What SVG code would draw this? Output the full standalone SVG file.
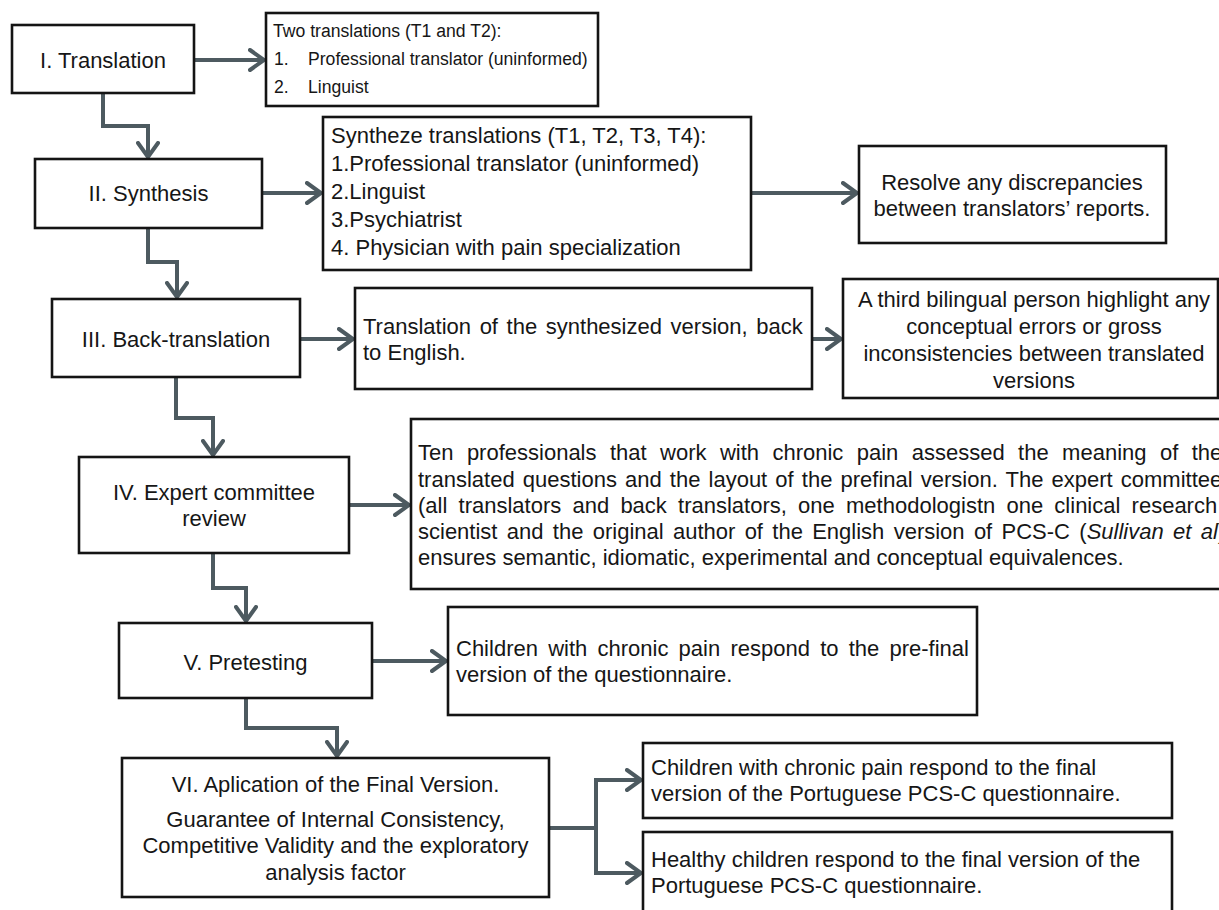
<svg xmlns="http://www.w3.org/2000/svg" width="1219" height="910" viewBox="0 0 1219 910">
<defs>
<style>
.box{fill:#fff;stroke:#141414;stroke-width:2.6}
.t{font-family:"Liberation Sans",Arial,sans-serif;font-size:22px;fill:#161616}
.s{font-size:17.6px}
.c{text-anchor:middle}
.con{fill:none;stroke:#4d5a60;stroke-width:4;stroke-linejoin:miter}
</style>
<marker id="arr" markerUnits="userSpaceOnUse" viewBox="0 0 18 24" refX="16" refY="12" markerWidth="18" markerHeight="24" orient="auto">
<path d="M2,2 L16,12 L2,22" fill="none" stroke="#4d5a60" stroke-width="4" stroke-linecap="round" stroke-linejoin="miter"/>
</marker>
</defs>
<rect width="1219" height="910" fill="#fff"/>

<g id="connectors">
<path class="con" d="M194,60 H264" marker-end="url(#arr)"/>
<path class="con" d="M103,93 V126 H148 V157" marker-end="url(#arr)"/>
<path class="con" d="M262,193 H321" marker-end="url(#arr)"/>
<path class="con" d="M751,193 H857" marker-end="url(#arr)"/>
<path class="con" d="M148,228 V262 H177 V297" marker-end="url(#arr)"/>
<path class="con" d="M300,339 H353" marker-end="url(#arr)"/>
<path class="con" d="M812,339 H841" marker-end="url(#arr)"/>
<path class="con" d="M176,377 V418 H213 V455" marker-end="url(#arr)"/>
<path class="con" d="M349,505 H409" marker-end="url(#arr)"/>
<path class="con" d="M213,553 V588 H246 V621" marker-end="url(#arr)"/>
<path class="con" d="M372,661 H446" marker-end="url(#arr)"/>
<path class="con" d="M246,698 V728 H337 V756" marker-end="url(#arr)"/>
<path class="con" d="M549,828 H596 V780 H641" marker-end="url(#arr)"/>
<path class="con" d="M596,826 V873 H641" marker-end="url(#arr)"/>
</g>

<g id="n1">
<rect class="box" x="12" y="25" width="182" height="68"/>
<text class="t c" x="103" y="68">I. Translation</text>
</g>
<g id="n1b">
<rect class="box" x="266" y="13" width="332" height="93"/>
<text class="t s" x="273" y="37">Two translations (T1 and T2):</text>
<text class="t s" x="274" y="65">1.</text>
<text class="t s" x="308" y="65">Professional translator (uninformed)</text>
<text class="t s" x="274" y="93">2.</text>
<text class="t s" x="308" y="93">Linguist</text>
</g>

<g id="n2">
<rect class="box" x="35" y="159" width="227" height="69"/>
<text class="t c" x="148.5" y="201">II. Synthesis</text>
</g>
<g id="n2b">
<rect class="box" x="323" y="117" width="428" height="153"/>
<text class="t" x="331" y="143">Syntheze translations (T1, T2, T3, T4):</text>
<text class="t" x="331" y="171">1.Professional translator (uninformed)</text>
<text class="t" x="331" y="199">2.Linguist</text>
<text class="t" x="331" y="227">3.Psychiatrist</text>
<text class="t" x="331" y="255">4. Physician with pain specialization</text>
</g>
<g id="n2c">
<rect class="box" x="859" y="146" width="307" height="97"/>
<text class="t c" x="1012" y="190">Resolve any discrepancies</text>
<text class="t c" x="1012" y="216">between translators’ reports.</text>
</g>

<g id="n3">
<rect class="box" x="52" y="299" width="248" height="78"/>
<text class="t c" x="176" y="347">III. Back-translation</text>
</g>
<g id="n3b">
<rect class="box" x="355" y="288" width="457" height="101"/>
<text class="t" x="363" y="334" word-spacing="2.5">Translation of the synthesized version, back</text>
<text class="t" x="363" y="360">to English.</text>
</g>
<g id="n3c">
<rect class="box" x="843" y="279" width="375" height="119"/>
<text class="t c" x="1034" y="307">A third bilingual person highlight any</text>
<text class="t c" x="1034" y="334">conceptual errors or gross</text>
<text class="t c" x="1034" y="361">inconsistencies between translated</text>
<text class="t c" x="1034" y="388">versions</text>
</g>

<g id="n4">
<rect class="box" x="79" y="457" width="270" height="96"/>
<text class="t c" x="214" y="500">IV. Expert committee</text>
<text class="t c" x="214" y="526">review</text>
</g>
<g id="n4b">
<rect class="box" x="411" y="419" width="820" height="170"/>
<text class="t" x="418" y="460" word-spacing="7.3">Ten professionals that work with chronic pain assessed the meaning of the</text>
<text class="t" x="418" y="486.5" word-spacing="2">translated questions and the layout of the prefinal version. The expert committee</text>
<text class="t" x="418" y="513" word-spacing="5.1">(all translators and back translators, one methodologistn one clinical research</text>
<text class="t" x="418" y="539" word-spacing="3.2">scientist and the original author of the English version of PCS-C (<tspan font-style="italic">Sullivan et al</tspan>)</text>
<text class="t" x="418" y="565">ensures semantic, idiomatic, experimental and conceptual equivalences.</text>
</g>

<g id="n5">
<rect class="box" x="119" y="623" width="253" height="75"/>
<text class="t c" x="245.5" y="670">V. Pretesting</text>
</g>
<g id="n5b">
<rect class="box" x="448" y="607" width="529" height="108"/>
<text class="t" x="456" y="656" word-spacing="4.1">Children with chronic pain respond to the pre-final</text>
<text class="t" x="456" y="682">version of the questionnaire.</text>
</g>

<g id="n6">
<rect class="box" x="122" y="758" width="427" height="139"/>
<text class="t c" x="335.5" y="792">VI. Aplication of the Final Version.</text>
<text class="t c" x="335.5" y="827">Guarantee of Internal Consistency,</text>
<text class="t c" x="335.5" y="853">Competitive Validity and the exploratory</text>
<text class="t c" x="335.5" y="880">analysis factor</text>
</g>
<g id="n6b">
<rect class="box" x="643" y="743" width="529" height="75"/>
<text class="t" x="651" y="775">Children with chronic pain respond to the final</text>
<text class="t" x="651" y="801">version of the Portuguese PCS-C questionnaire.</text>
</g>
<g id="n6c">
<rect class="box" x="643" y="832" width="529" height="90"/>
<text class="t" x="651" y="867">Healthy children respond to the final version of the</text>
<text class="t" x="651" y="893">Portuguese PCS-C questionnaire.</text>
</g>
</svg>
